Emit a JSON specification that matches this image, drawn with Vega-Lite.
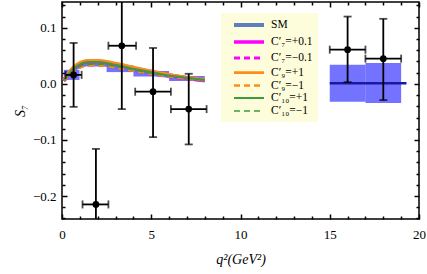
{
  "$schema": "https://vega.github.io/schema/vega-lite/v6.json",
  "width": 357,
  "height": 217,
  "autosize": "none",
  "padding": {"left": 62, "top": 2, "right": 8, "bottom": 55},
  "config": {
    "view": {"stroke": "black", "strokeWidth": 1.5},
    "axis": {"domain": false, "grid": false, "labelFont": "Liberation Serif", "labelFontSize": 13, "labelColor": "black", "tickColor": "black", "tickWidth": 1.5, "titleFont": "Liberation Serif", "titleFontSize": 14, "titleFontWeight": "normal", "titleFontStyle": "italic", "titleColor": "black"},
    "legend": {"orient": "none", "legendX": 159, "legendY": 11, "title": null, "fillColor": "#fdfddc", "padding": 5, "labelFont": "Liberation Serif", "labelFontSize": 11.5, "labelColor": "black", "labelAlign": "left", "symbolType": "M-3,0H3", "symbolSize": 100, "symbolOffset": 16, "rowPadding": 1, "labelOffset": 15}
  },
  "datasets": {
    "smbox": [
      {"xlo": 0.1, "xhi": 0.98, "ylo": 0.007, "yhi": 0.025},
      {"xlo": 1.1, "xhi": 2.5, "ylo": 0.031, "yhi": 0.041},
      {"xlo": 2.5, "xhi": 4.0, "ylo": 0.021, "yhi": 0.033},
      {"xlo": 4.0, "xhi": 6.0, "ylo": 0.013, "yhi": 0.023},
      {"xlo": 6.0, "xhi": 8.0, "ylo": 0.005, "yhi": 0.014},
      {"xlo": 15.0, "xhi": 17.0, "ylo": -0.032, "yhi": 0.034},
      {"xlo": 17.0, "xhi": 19.0, "ylo": -0.034, "yhi": 0.037}
    ],
    "smcenter": [{"xlo": 15.0, "xhi": 19.3, "y": 0.001}],
    "curves": [
      {"s": "SM", "q": 0.1, "v": 0.006}, {"s": "SM", "q": 0.3, "v": 0.014}, {"s": "SM", "q": 0.6, "v": 0.024}, {"s": "SM", "q": 1.0, "v": 0.032}, {"s": "SM", "q": 1.5, "v": 0.036}, {"s": "SM", "q": 2.0, "v": 0.036}, {"s": "SM", "q": 3.0, "v": 0.031}, {"s": "SM", "q": 4.0, "v": 0.025}, {"s": "SM", "q": 5.0, "v": 0.019}, {"s": "SM", "q": 6.0, "v": 0.014}, {"s": "SM", "q": 7.0, "v": 0.010}, {"s": "SM", "q": 8.0, "v": 0.006},
      {"s": "C′₇=+0.1", "q": 0.1, "v": 0.007}, {"s": "C′₇=+0.1", "q": 0.3, "v": 0.016}, {"s": "C′₇=+0.1", "q": 0.6, "v": 0.027}, {"s": "C′₇=+0.1", "q": 1.0, "v": 0.036}, {"s": "C′₇=+0.1", "q": 1.5, "v": 0.040}, {"s": "C′₇=+0.1", "q": 2.0, "v": 0.040}, {"s": "C′₇=+0.1", "q": 3.0, "v": 0.035}, {"s": "C′₇=+0.1", "q": 4.0, "v": 0.028}, {"s": "C′₇=+0.1", "q": 5.0, "v": 0.022}, {"s": "C′₇=+0.1", "q": 6.0, "v": 0.016}, {"s": "C′₇=+0.1", "q": 7.0, "v": 0.011}, {"s": "C′₇=+0.1", "q": 8.0, "v": 0.007},
      {"s": "C′₇=−0.1", "q": 0.1, "v": 0.005}, {"s": "C′₇=−0.1", "q": 0.3, "v": 0.012}, {"s": "C′₇=−0.1", "q": 0.6, "v": 0.021}, {"s": "C′₇=−0.1", "q": 1.0, "v": 0.030}, {"s": "C′₇=−0.1", "q": 1.5, "v": 0.034}, {"s": "C′₇=−0.1", "q": 2.0, "v": 0.034}, {"s": "C′₇=−0.1", "q": 3.0, "v": 0.030}, {"s": "C′₇=−0.1", "q": 4.0, "v": 0.024}, {"s": "C′₇=−0.1", "q": 5.0, "v": 0.018}, {"s": "C′₇=−0.1", "q": 6.0, "v": 0.013}, {"s": "C′₇=−0.1", "q": 7.0, "v": 0.009}, {"s": "C′₇=−0.1", "q": 8.0, "v": 0.006},
      {"s": "C′₉=+1", "q": 0.1, "v": 0.007}, {"s": "C′₉=+1", "q": 0.3, "v": 0.017}, {"s": "C′₉=+1", "q": 0.6, "v": 0.029}, {"s": "C′₉=+1", "q": 1.0, "v": 0.038}, {"s": "C′₉=+1", "q": 1.5, "v": 0.042}, {"s": "C′₉=+1", "q": 2.0, "v": 0.042}, {"s": "C′₉=+1", "q": 3.0, "v": 0.037}, {"s": "C′₉=+1", "q": 4.0, "v": 0.030}, {"s": "C′₉=+1", "q": 5.0, "v": 0.023}, {"s": "C′₉=+1", "q": 6.0, "v": 0.017}, {"s": "C′₉=+1", "q": 7.0, "v": 0.012}, {"s": "C′₉=+1", "q": 8.0, "v": 0.008},
      {"s": "C′₉=−1", "q": 0.1, "v": 0.005}, {"s": "C′₉=−1", "q": 0.3, "v": 0.012}, {"s": "C′₉=−1", "q": 0.6, "v": 0.021}, {"s": "C′₉=−1", "q": 1.0, "v": 0.029}, {"s": "C′₉=−1", "q": 1.5, "v": 0.033}, {"s": "C′₉=−1", "q": 2.0, "v": 0.033}, {"s": "C′₉=−1", "q": 3.0, "v": 0.029}, {"s": "C′₉=−1", "q": 4.0, "v": 0.023}, {"s": "C′₉=−1", "q": 5.0, "v": 0.018}, {"s": "C′₉=−1", "q": 6.0, "v": 0.013}, {"s": "C′₉=−1", "q": 7.0, "v": 0.009}, {"s": "C′₉=−1", "q": 8.0, "v": 0.006},
      {"s": "C′₁₀=+1", "q": 0.1, "v": 0.006}, {"s": "C′₁₀=+1", "q": 0.3, "v": 0.015}, {"s": "C′₁₀=+1", "q": 0.6, "v": 0.026}, {"s": "C′₁₀=+1", "q": 1.0, "v": 0.035}, {"s": "C′₁₀=+1", "q": 1.5, "v": 0.039}, {"s": "C′₁₀=+1", "q": 2.0, "v": 0.039}, {"s": "C′₁₀=+1", "q": 3.0, "v": 0.034}, {"s": "C′₁₀=+1", "q": 4.0, "v": 0.027}, {"s": "C′₁₀=+1", "q": 5.0, "v": 0.021}, {"s": "C′₁₀=+1", "q": 6.0, "v": 0.015}, {"s": "C′₁₀=+1", "q": 7.0, "v": 0.011}, {"s": "C′₁₀=+1", "q": 8.0, "v": 0.007},
      {"s": "C′₁₀=−1", "q": 0.1, "v": 0.005}, {"s": "C′₁₀=−1", "q": 0.3, "v": 0.013}, {"s": "C′₁₀=−1", "q": 0.6, "v": 0.022}, {"s": "C′₁₀=−1", "q": 1.0, "v": 0.031}, {"s": "C′₁₀=−1", "q": 1.5, "v": 0.035}, {"s": "C′₁₀=−1", "q": 2.0, "v": 0.035}, {"s": "C′₁₀=−1", "q": 3.0, "v": 0.031}, {"s": "C′₁₀=−1", "q": 4.0, "v": 0.025}, {"s": "C′₁₀=−1", "q": 5.0, "v": 0.019}, {"s": "C′₁₀=−1", "q": 6.0, "v": 0.014}, {"s": "C′₁₀=−1", "q": 7.0, "v": 0.010}, {"s": "C′₁₀=−1", "q": 8.0, "v": 0.006}
    ],
    "points": [
      {"x": 0.65, "xlo": 0.2, "xhi": 1.1, "y": 0.016, "ylo": -0.041, "yhi": 0.073},
      {"x": 1.9, "xlo": 1.15, "xhi": 2.6, "y": -0.215, "ylo": -0.33, "yhi": -0.116},
      {"x": 3.35, "xlo": 2.6, "xhi": 4.15, "y": 0.068, "ylo": -0.045, "yhi": 0.18},
      {"x": 5.1, "xlo": 4.1, "xhi": 6.1, "y": -0.014, "ylo": -0.095, "yhi": 0.064},
      {"x": 7.1, "xlo": 6.1, "xhi": 8.1, "y": -0.045, "ylo": -0.108, "yhi": 0.018},
      {"x": 16.0, "xlo": 15.0, "xhi": 17.0, "y": 0.061, "ylo": 0.003, "yhi": 0.12},
      {"x": 18.0, "xlo": 17.0, "xhi": 19.0, "y": 0.045, "ylo": -0.029, "yhi": 0.116}
    ]
  },
  "layer": [
    {
      "data": {"name": "smbox"},
      "mark": {"type": "rect", "color": "#0000ff", "opacity": 0.55},
      "encoding": {
        "x": {"field": "xlo", "type": "quantitative", "scale": {"domain": [0, 20], "nice": false, "zero": false}, "axis": null},
        "x2": {"field": "xhi"},
        "y": {"field": "ylo", "type": "quantitative", "scale": {"domain": [-0.241, 0.146], "nice": false, "zero": false}, "axis": null},
        "y2": {"field": "yhi"}
      }
    },
    {
      "data": {"name": "smcenter"},
      "mark": {"type": "rule", "color": "#1a1aa0", "strokeWidth": 2.5},
      "encoding": {
        "x": {"field": "xlo", "type": "quantitative", "axis": null},
        "x2": {"field": "xhi"},
        "y": {"field": "y", "type": "quantitative", "axis": null}
      }
    },
    {
      "mark": {"type": "rule", "color": "black", "strokeWidth": 1},
      "encoding": {"y": {"datum": 0, "type": "quantitative", "axis": null}}
    },
    {
      "data": {"name": "curves"},
      "mark": {"type": "line", "interpolate": "monotone"},
      "encoding": {
        "x": {"field": "q", "type": "quantitative", "axis": null},
        "y": {"field": "v", "type": "quantitative", "axis": null},
        "color": {
          "field": "s", "type": "nominal",
          "scale": {"domain": ["SM", "C′₇=+0.1", "C′₇=−0.1", "C′₉=+1", "C′₉=−1", "C′₁₀=+1", "C′₁₀=−1"], "range": ["#5b7fc0", "#ff00ff", "#ff00ff", "#ff8c1a", "#ff8c1a", "#3c9b3c", "#3c9b3c"]}
        },
        "strokeDash": {
          "field": "s", "type": "nominal",
          "scale": {"domain": ["SM", "C′₇=+0.1", "C′₇=−0.1", "C′₉=+1", "C′₉=−1", "C′₁₀=+1", "C′₁₀=−1"], "range": [[1, 0], [1, 0], [6, 4], [1, 0], [6, 4], [1, 0], [6, 4]]}
        },
        "strokeWidth": {
          "field": "s", "type": "nominal",
          "scale": {"domain": ["SM", "C′₇=+0.1", "C′₇=−0.1", "C′₉=+1", "C′₉=−1", "C′₁₀=+1", "C′₁₀=−1"], "range": [4, 1.5, 1.5, 1.5, 1.5, 1.5, 1.5]}
        }
      }
    },
    {
      "data": {"name": "points"},
      "mark": {"type": "errorbar", "clip": true, "rule": {"strokeWidth": 1.8, "color": "black"}, "ticks": {"size": 8, "thickness": 1.8, "color": "black"}},
      "encoding": {
        "x": {"field": "x", "type": "quantitative", "axis": null},
        "y": {"field": "ylo", "type": "quantitative", "axis": null},
        "y2": {"field": "yhi"}
      }
    },
    {
      "data": {"name": "points"},
      "mark": {"type": "errorbar", "clip": true, "rule": {"strokeWidth": 1.8, "color": "black"}, "ticks": {"size": 8, "thickness": 1.8, "color": "black"}},
      "encoding": {
        "y": {"field": "y", "type": "quantitative", "axis": null},
        "x": {"field": "xlo", "type": "quantitative", "axis": null},
        "x2": {"field": "xhi"}
      }
    },
    {
      "data": {"name": "points"},
      "mark": {"type": "point", "filled": true, "color": "black", "opacity": 1, "size": 45},
      "encoding": {
        "x": {"field": "x", "type": "quantitative", "axis": {"orient": "bottom", "values": [0,1,2,3,4,5,6,7,8,9,10,11,12,13,14,15,16,17,18,19,20], "labelExpr": "datum.value % 5 === 0 ? datum.label : ''", "tickSize": {"condition": {"test": "datum.value % 5 === 0", "value": -5}, "value": -3}, "labelPadding": 14, "labelFlush": false, "labelOverlap": false, "title": "q²(GeV²)", "titlePadding": 9}},
        "y": {"field": "y", "type": "quantitative", "axis": {"orient": "left", "values": [-0.24,-0.22,-0.2,-0.18,-0.16,-0.14,-0.12,-0.1,-0.08,-0.06,-0.04,-0.02,0,0.02,0.04,0.06,0.08,0.1,0.12,0.14], "format": ".1f", "labelExpr": "abs(datum.value*10 - round(datum.value*10)) < 0.001 ? datum.label : ''", "tickSize": {"condition": {"test": "abs(datum.value*10 - round(datum.value*10)) < 0.001", "value": -5}, "value": -3}, "labelPadding": 11, "labelOverlap": false, "labelFlush": false, "title": "S₇", "titlePadding": 5}}
      }
    },
    {
      "data": {"name": "points"},
      "mark": {"type": "point", "opacity": 0},
      "encoding": {
        "x": {"field": "x", "type": "quantitative", "axis": {"orient": "top", "values": [0,1,2,3,4,5,6,7,8,9,10,11,12,13,14,15,16,17,18,19,20], "labels": false, "title": null, "tickSize": {"condition": {"test": "datum.value % 5 === 0", "value": -5}, "value": -3}}},
        "y": {"field": "y", "type": "quantitative", "axis": {"orient": "right", "values": [-0.24,-0.22,-0.2,-0.18,-0.16,-0.14,-0.12,-0.1,-0.08,-0.06,-0.04,-0.02,0,0.02,0.04,0.06,0.08,0.1,0.12,0.14], "labels": false, "title": null, "tickSize": {"condition": {"test": "abs(datum.value*10 - round(datum.value*10)) < 0.001", "value": -5}, "value": -3}}}
      }
    }
  ],
  "resolve": {"axis": {"x": "independent", "y": "independent"}}
}
